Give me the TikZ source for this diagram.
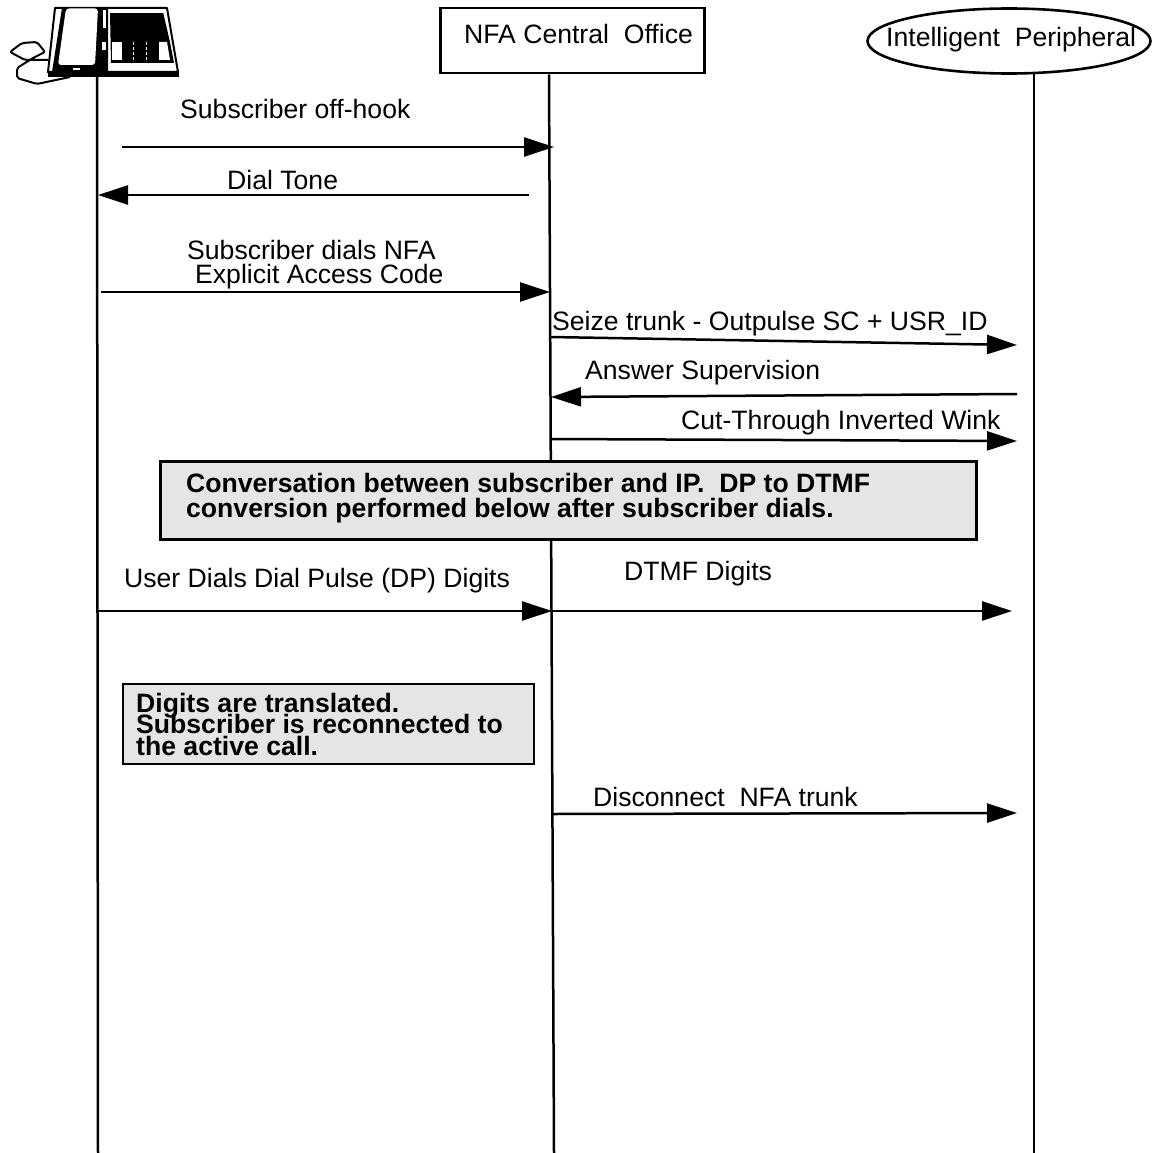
\documentclass[tikz,border=0pt]{standalone}
\usepackage{fontspec}
\setmainfont{Liberation Sans}
\usetikzlibrary{arrows.meta,shapes.geometric}
\tikzset{
  lifeline/.style={draw=black,line width=2.5pt},
  msg/.style={draw=black,line width=2.5pt,-{Triangle[length=30pt,width=19pt]}},
  lbl/.style={anchor=base west,inner sep=0pt,font=\fontsize{26.6}{26.6}\selectfont},
  bold/.style={anchor=base west,inner sep=0pt,font=\fontsize{26.6}{26.6}\selectfont\bfseries},
  greybox/.style={draw=black,fill=black!10,line width=2.6pt,inner sep=0pt},
}
\begin{document}
\begin{tikzpicture}[x=1pt,y=-1pt]
\useasboundingbox (0,0) rectangle (1151,1153);
% headers
\node[draw=black,line width=2.6pt,minimum width=264pt,minimum height=65pt,inner sep=0pt] (co) at (572.5,40.5) {};
\node[lbl] (cot) at (464,44) {NFA Central\ \ Office};
\node[draw=black,line width=2.6pt,ellipse,minimum width=283pt,minimum height=65pt,inner sep=0pt] (ip) at (1009,41) {};
\node[lbl] (ipt) at (886,47) {Intelligent\ \ Peripheral};
% phone
\coordinate (ph) at (97,76);
\draw[line width=2pt,line join=round,rounded corners=2pt] (48,60) -- (25,60) -- (10,52) -- (22,43) -- (37,42) -- (45,52) -- (33,58) -- (17,68) -- (17,78) -- (37,84) -- (70,77);
\fill[white] (55,8) -- (167,8) -- (178,72) -- (48,72) -- cycle;
\draw[line width=2pt,line join=round] (55,8) -- (167,8) -- (178,72) -- (48,72) -- cycle;
\fill[black] (62,8) -- (100,8) -- (108,8) -- (108,72) -- (52,72) -- cycle;
\fill[white,rounded corners=3pt] (66,8.5) -- (98,8.5) -- (95,65) -- (58,65) -- cycle;
\fill[white] (73,68) rectangle (80,70.5);
\fill[white] (103,10) rectangle (106,28);
\fill[white] (102,42) rectangle (106,50);
\fill[black] (110,12) -- (163,12) -- (170,42) -- (174,63) -- (111,63) -- cycle;
\fill[white] (112,42) rectangle (122,60);
\fill[white] (159,42) -- (167,42) -- (170,60) -- (159,60) -- cycle;
\fill[white] (111,63.5) -- (172,63.5) -- (174,68) -- (111,68) -- cycle;
\fill[white] (110,11.5) rectangle (163,13);
\draw[white,line width=1pt,densely dashed] (133,42) -- (133,60) (146,42) -- (146,60);
\fill[black] (48,72) rectangle (179,77);
% lifelines
\draw[lifeline] (ph) -- (98,1153);
\draw[lifeline] (co.south -| 549,0) -- (554,1153);
\draw[lifeline] (1034,73) -- (1034,1153);
% messages
\coordinate (m1a) at (122,147); \coordinate (m1b) at (554,147);
\coordinate (m2a) at (529,195); \coordinate (m2b) at (98,195);
\coordinate (m3a) at (101,292); \coordinate (m3b) at (550,292);
\coordinate (m4a) at (550,337); \coordinate (m4b) at (1017,345);
\coordinate (m5a) at (1017,394); \coordinate (m5b) at (551,397);
\coordinate (m6a) at (550,439); \coordinate (m6b) at (1017,441);
\coordinate (m7a) at (98,611); \coordinate (m7b) at (552,611);
\coordinate (m8a) at (552,611); \coordinate (m8b) at (1012,611);
\coordinate (m9a) at (553,814); \coordinate (m9b) at (1017,813);
\draw[msg] (m1a) -- (m1b);
\draw[msg] (m2a) -- (m2b);
\draw[msg] (m3a) -- (m3b);
\draw[msg] (m4a) -- (m4b);
\draw[msg] (m5a) -- (m5b);
\draw[msg] (m6a) -- (m6b);
\draw[msg] (m7a) -- (m7b);
\draw[msg] (m8a) -- (m8b);
\draw[msg] (m9a) -- (m9b);
% labels
\node[lbl] (l1) at (180,118) {Subscriber off-hook};
\node[lbl] (l2) at (227,189) {Dial Tone};
\node[lbl] (l3a) at (187,259) {Subscriber dials NFA};
\node[lbl] (l3b) at (195,283) {Explicit Access Code};
\node[lbl] (l4) at (552,330) {Seize trunk - Outpulse SC + USR\_ID};
\node[lbl] (l5) at (585,379) {Answer Supervision};
\node[lbl] (l6) at (681,429) {Cut-Through Inverted Wink};
\node[lbl] (l7) at (124,587) {User Dials Dial Pulse (DP) Digits};
\node[lbl] (l8) at (624,580) {DTMF Digits};
\node[lbl] (l9) at (593,806) {Disconnect\ \ NFA trunk};
% grey boxes
\node[greybox,minimum width=816pt,minimum height=78pt] (g1) at (568.5,500.5) {};
\node[bold] (g1a) at (186,492) {Conversation between subscriber and IP.\ \ DP to DTMF};
\node[bold] (g1b) at (186,517) {conversion performed below after subscriber dials.};
\node[greybox,minimum width=411pt,minimum height=80pt] (g2) at (328.5,724) {};
\node[bold] (g2a) at (136,712) {Digits are translated.};
\node[bold] (g2b) at (136,733) {Subscriber is reconnected to};
\node[bold] (g2c) at (136,755) {the active call.};
\end{tikzpicture}
\end{document}
